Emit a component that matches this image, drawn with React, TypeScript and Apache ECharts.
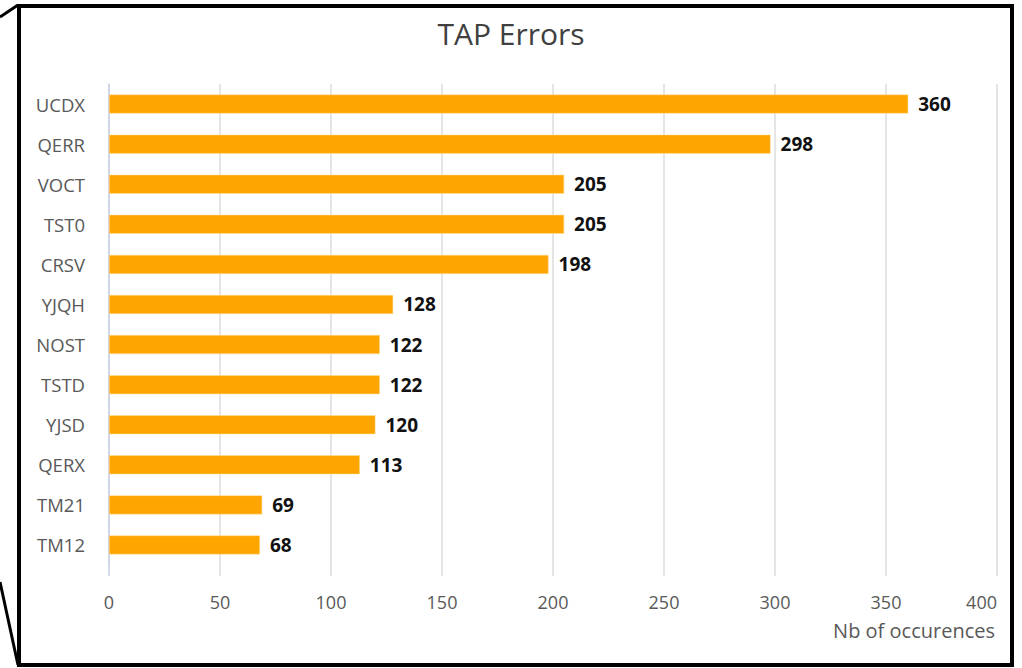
import React, { useEffect, useRef } from "react";
import * as echarts from "echarts";

const categories = ["UCDX", "QERR", "VOCT", "TST0", "CRSV", "YJQH", "NOST", "TSTD", "YJSD", "QERX", "TM21", "TM12"];
const values = [360, 298, 205, 205, 198, 128, 122, 122, 120, 113, 69, 68];
const xTicks = [0, 50, 100, 150, 200, 250, 300, 350, 400];
const titleText = "TAP Errors";
const axisTitle = "Nb of occurences";

const FONT = "'Open Sans', 'Noto Sans', sans-serif";

export default function App() {
  const ref = useRef<HTMLDivElement>(null);
  useEffect(() => {
    if (!ref.current) return;
    const chart = echarts.init(ref.current, undefined, { renderer: "svg" });
    chart.setOption({
      animation: false,
      backgroundColor: "#ffffff",
      title: {
        text: titleText,
        left: "center",
        top: 13,
        textStyle: { fontFamily: FONT, fontSize: 30, fontWeight: "normal", color: "#404040" },
      },
      grid: { left: 109, right: 25, top: 84, bottom: 103, containLabel: false },
      xAxis: {
        type: "value",
        min: 0,
        max: 400,
        interval: 50,
        axisLine: { show: false },
        axisTick: { show: false },
        splitLine: { show: true, lineStyle: { color: "#dcdcdc", width: 1.5 } },
        axisLabel: { fontFamily: FONT, fontSize: 18, color: "#595959", margin: 28, alignMaxLabel: "right" },
      },
      yAxis: {
        type: "category",
        data: categories,
        inverse: true,
        axisLine: { show: true, lineStyle: { color: "#c7d2e6", width: 1.5 } },
        axisTick: { show: false },
        axisLabel: { fontFamily: FONT, fontSize: 18.5, color: "#595959", margin: 24 },
      },
      series: [
        {
          type: "bar",
          data: values,
          barWidth: 19,
          itemStyle: { color: "#ffa500", borderColor: "#ffe0a0", borderWidth: 0.5 },
          label: {
            show: true,
            position: "right",
            distance: 10,
            fontFamily: FONT,
            fontSize: 19,
            fontWeight: "bold",
            color: "#111111",
          },
        },
      ],
    });
    // extend gridlines and axis line slightly below the last category, as in the reference
    const yBottom = 565;
    const ext: any[] = xTicks.map((t) => {
      const px = chart.convertToPixel({ xAxisIndex: 0 }, t) as number;
      return {
        type: "line",
        shape: { x1: px, y1: yBottom, x2: px, y2: yBottom + 11 },
        style: { stroke: t === 0 ? "#c7d2e6" : "#dcdcdc", lineWidth: 1.5 },
      };
    });
    chart.setOption({
      graphic: [
        ...ext,
        {
          type: "text",
          right: 27,
          top: 620,
          style: { text: axisTitle, fontFamily: FONT, fontSize: 20, fill: "#595959" },
        },
        {
          type: "rect",
          shape: { x: 19, y: 6, width: 993, height: 659 },
          style: { fill: "none", stroke: "#000", lineWidth: 4 },
          z: 100,
        },
        { type: "line", shape: { x1: 0, y1: 17, x2: 18, y2: 5 }, style: { stroke: "#000", lineWidth: 3 }, z: 100 },
        { type: "line", shape: { x1: 0, y1: 582, x2: 18, y2: 665 }, style: { stroke: "#000", lineWidth: 3 }, z: 100 },
      ],
    });
    return () => chart.dispose();
  }, []);
  return <div ref={ref} style={{ width: 1022, height: 668, position: "fixed", left: 0, top: 0 }} />;
}
